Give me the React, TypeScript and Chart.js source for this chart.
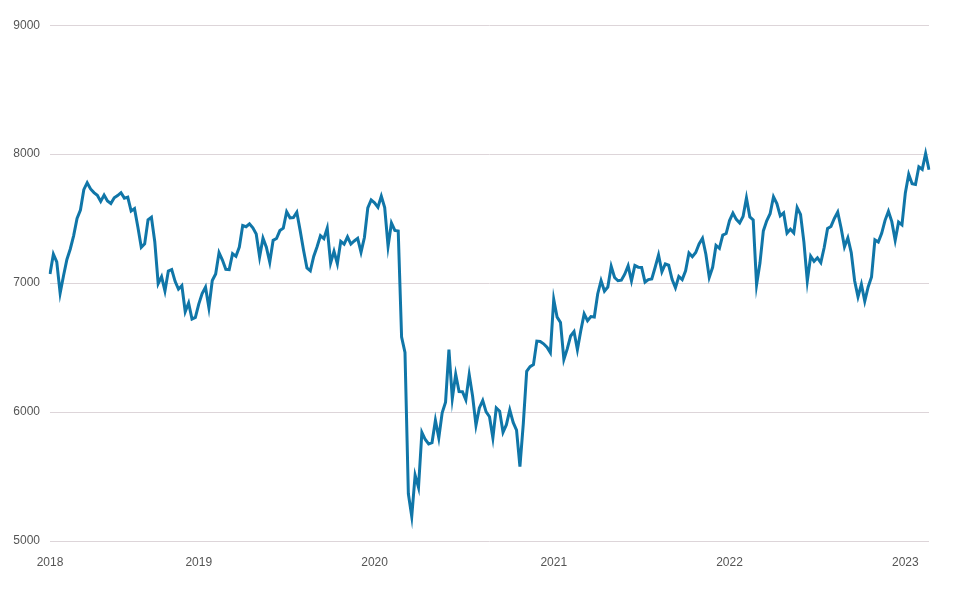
import React, { useEffect, useRef } from "react";
import { Chart, registerables } from "chart.js";

Chart.register(...registerables);

// Weekly closes, March 2018 – February 2023
const values2018 = [
  7069.9, 7224.5, 7164.1, 6921.9, 7056.6, 7183.6, 7264.6, 7368.2, 7502.2, 7567.1,
  7724.6, 7778.8, 7730.3, 7701.8, 7681.1, 7633.9, 7682.3, 7636.9, 7617.7, 7661.9,
  7678.8, 7701.3, 7659.1, 7667.0, 7558.6, 7577.5, 7432.4, 7277.7, 7304.0, 7490.2,
  7510.2, 7318.5, 6995.9, 7049.8, 6939.6, 7094.1, 7105.3, 7013.8, 6952.9, 6980.2,
  6778.1, 6845.2, 6721.2, 6734.0,
];
const values2019 = [
  6837.4, 6918.2, 6968.3, 6809.2, 7020.2, 7071.2, 7236.7, 7178.6, 7106.7, 7104.3,
  7228.3, 7207.6, 7279.2, 7446.9, 7437.1, 7459.9, 7428.2, 7380.6, 7203.3, 7348.6,
  7277.7, 7161.7, 7331.9, 7345.8, 7407.5, 7425.6, 7553.1, 7506.0, 7508.7, 7549.1,
  7407.1, 7253.9, 7117.2, 7095.0, 7207.2, 7282.3, 7367.5, 7344.9, 7426.2, 7155.4,
  7247.1, 7150.6, 7324.5, 7302.4, 7359.4, 7302.9, 7326.8, 7346.5, 7239.7, 7353.4,
  7582.5, 7644.9,
];
const values2020 = [
  7622.4, 7587.9, 7674.6, 7586.0, 7286.0, 7466.7, 7409.1, 7403.9, 6580.6, 6462.6,
  5366.1, 5190.8, 5510.3, 5415.5, 5842.7, 5787.0, 5752.2, 5763.1, 5936.0, 5799.8,
  5993.3, 6076.6, 6484.3, 6105.2, 6292.6, 6159.3, 6158.0, 6095.4, 6290.3, 6123.8,
  5897.8, 6032.2, 6090.0, 6001.9, 5963.6, 5799.1, 6032.1, 6007.1, 5842.7, 5902.1,
  6016.7, 5919.6, 5860.3, 5577.3, 5910.0, 6316.4, 6351.5, 6367.6, 6550.2, 6546.8,
  6529.2, 6502.1, 6460.5,
];
const values2021 = [
  6873.3, 6735.7, 6695.1, 6407.5, 6489.3, 6589.8, 6624.0, 6483.4, 6630.5, 6761.5,
  6708.7, 6740.6, 6737.3, 6915.8, 7019.5, 6938.2, 6969.8, 7129.7, 7043.6, 7018.1,
  7022.6, 7069.0, 7134.1, 7017.5, 7136.1, 7123.3, 7121.9, 7008.1, 7027.6, 7032.3,
  7123.0, 7218.7, 7087.9, 7148.0, 7138.4, 7029.2, 6963.6, 7051.5, 7027.1, 7095.6,
  7234.0, 7204.6, 7237.6, 7304.0, 7347.9, 7223.6, 7044.0, 7122.3, 7291.8, 7269.9,
  7372.1, 7384.5,
];
const values2022 = [
  7485.3, 7543.0, 7494.1, 7466.1, 7516.4, 7661.0, 7513.6, 7489.5, 6987.1, 7155.6,
  7404.7, 7483.4, 7537.9, 7669.6, 7616.4, 7521.7, 7544.6, 7387.9, 7418.2, 7390.0,
  7585.5, 7533.0, 7317.5, 7016.3, 7208.8, 7168.7, 7196.2, 7159.0, 7276.4, 7423.4,
  7439.7, 7500.9, 7550.4, 7427.3, 7281.2, 7351.1, 7236.7, 7018.6, 6893.8, 6991.1,
  6858.8, 6969.7, 7047.7, 7334.8, 7318.0, 7385.5, 7486.7, 7556.2, 7476.6, 7332.1,
  7473.0, 7451.7,
];
const values2023 = [7699.5, 7844.1, 7770.6, 7765.2, 7901.8, 7882.5, 8004.4, 7878.7];

const yearSeries: [string, number[]][] = [
  ["2018", values2018],
  ["2019", values2019],
  ["2020", values2020],
  ["2021", values2021],
  ["2022", values2022],
  ["2023", values2023],
];

const yTicks = [5000, 6000, 7000, 8000, 9000];

export default function App() {
  const ref = useRef<HTMLCanvasElement | null>(null);

  useEffect(() => {
    if (!ref.current) return;
    const labels: string[] = [];
    const data: number[] = [];
    yearSeries.forEach(([yr, vals]) => {
      vals.forEach((v) => {
        labels.push(yr);
        data.push(v);
      });
    });

    const font = { family: "'Liberation Sans', Arial, sans-serif", size: 12 };

    const chart = new Chart(ref.current, {
      type: "line",
      data: {
        labels,
        datasets: [
          {
            data,
            borderColor: "rgb(16,118,168)",
            borderWidth: 3,
            pointRadius: 0,
            tension: 0,
            fill: false,
          },
        ],
      },
      options: {
        animation: false,
        responsive: true,
        maintainAspectRatio: false,
        layout: { padding: { top: 16, right: 29, left: 0, bottom: 0 } },
        plugins: { legend: { display: false }, tooltip: { enabled: false } },
        scales: {
          x: {
            type: "category",
            grid: { display: false, drawTicks: false },
            border: { display: false },
            ticks: {
              autoSkip: false,
              maxRotation: 0,
              minRotation: 0,
              padding: 14,
              color: "#555",
              font,
              callback: (_v: any, index: number) =>
                index === 0 || labels[index - 1] !== labels[index] ? labels[index] : "",
            },
            afterFit: (scale: any) => {
              scale.height = 43;
            },
          },
          y: {
            min: yTicks[0],
            max: yTicks[yTicks.length - 1],
            afterBuildTicks: (scale: any) => {
              scale.ticks = yTicks.map((v) => ({ value: v }));
            },
            grid: { color: "#ddd5d9", drawTicks: false, lineWidth: 1 },
            border: { display: false },
            ticks: {
              padding: 10,
              color: "#555",
              font,
              callback: (v: any) => String(v),
            },
            afterFit: (scale: any) => {
              scale.width = 42;
            },
          },
        },
      },
    });
    return () => chart.destroy();
  }, []);

  return (
    <div style={{ width: 950, height: 576, position: "relative" }}>
      <canvas ref={ref} />
    </div>
  );
}
